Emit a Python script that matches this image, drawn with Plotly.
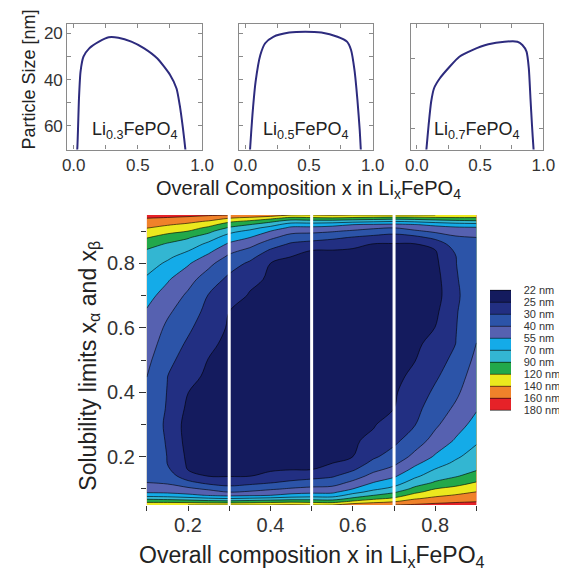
import numpy as np
import plotly.graph_objects as go

FONT = "Liberation Sans, Arial, sans-serif"
OFF = 8                      # browser body margin around the figure
W, H = 567 - OFF, 573 - OFF  # figure size

# ---------------- top panels: particle size vs overall composition ----------------
p1_x = [0.020, 0.028, 0.041, 0.053, 0.076, 0.121, 0.197, 0.273, 0.348, 0.449, 0.549, 0.650, 0.751, 0.801, 0.826, 0.851, 0.869, 0.875]
p1_s = [74.0, 69.7, 48.1, 36.6, 30.1, 26.5, 23.6, 21.7, 21.9, 23.6, 26.5, 30.8, 38.0, 43.8, 51.0, 61.0, 69.7, 74.0]

p2_x = [0.034, 0.038, 0.056, 0.081, 0.118, 0.156, 0.220, 0.345, 0.471, 0.597, 0.723, 0.798, 0.830, 0.857, 0.880, 0.898, 0.906, 0.910]
p2_s = [74.0, 69.7, 55.3, 40.9, 29.4, 24.3, 21.5, 19.7, 19.3, 19.7, 21.5, 23.6, 27.2, 35.9, 48.8, 61.8, 69.7, 74.0]

p3_x = [0.070, 0.075, 0.093, 0.113, 0.136, 0.182, 0.259, 0.336, 0.438, 0.565, 0.693, 0.795, 0.834, 0.867, 0.885, 0.898, 0.910, 0.923, 0.928]
p3_s = [96.0, 92.4, 78.1, 64.8, 57.1, 51.4, 44.8, 39.1, 35.3, 32.0, 30.5, 30.5, 32.4, 36.2, 45.7, 62.8, 78.1, 92.4, 96.0]

panel_labels = ["Li<sub>0.3</sub>FePO<sub>4</sub>", "Li<sub>0.5</sub>FePO<sub>4</sub>", "Li<sub>0.7</sub>FePO<sub>4</sub>"]

# ---------------- main contour map ----------------
comp_x = [0.10, 0.15, 0.20, 0.25, 0.30, 0.35, 0.40, 0.45, 0.50, 0.55, 0.60, 0.65, 0.70, 0.75, 0.80, 0.85, 0.90]
solub_y = [0.05, 0.06, 0.07, 0.08, 0.09, 0.10, 0.12, 0.14, 0.16, 0.18, 0.20, 0.25, 0.30, 0.35, 0.40, 0.45,
           0.50, 0.55, 0.60, 0.65, 0.70, 0.75, 0.80, 0.82, 0.84, 0.86, 0.88, 0.90, 0.91, 0.92, 0.93, 0.94, 0.95]

# particle size [nm] along each column (x fixed), from y=0.05 to y=0.95
size_x010 = [136, 114, 85, 64, 53, 48.4, 39.9, 39, 38.2, 37.3, 36.5, 34.3, 33.8, 35.9, 38, 40.2, 43.5, 46.9, 50.2, 53.7, 59.7, 67.8, 78.6, 83.4, 88.4, 102.6, 121, 134, 140.6, 147, 153.6, 160, 171]
size_x015 = [137.8, 113.4, 82.5, 62.5, 52.2, 46.6, 38.6, 35.2, 31.7, 29.9, 29.9, 29.7, 29.5, 29.67, 29.83, 30.1, 32.7, 35.5, 38.2, 42.3, 49.1, 56.6, 67.8, 73.6, 80.9, 88.2, 106.7, 126.2, 133.8, 141.6, 149.6, 157.6, 168]
size_x020 = [140, 110, 78.6, 58.3, 49.8, 43.3, 32.5, 27, 24.9, 24.6, 24.4, 23.9, 23.7, 24.4, 25.05, 26.4, 27.9, 29.3, 31.7, 35, 38.3, 45.2, 56.8, 63.7, 71, 81, 92.7, 120, 128, 136, 145, 155, 165]
size_x025 = [140, 105, 72.9, 54.2, 45.8, 38.3, 28.5, 24.9, 24.7, 24.5, 24.3, 23.7, 23.2, 23.6, 24.1, 24.5, 24.9, 26, 27.3, 28.5, 29.75, 35, 43.8, 51.3, 58.9, 66.8, 78.9, 97.9, 113.7, 126.7, 137.8, 150, 162.4]
size_x030 = [140, 102.9, 70, 51.6, 40, 35, 27.1, 24.9, 24.7, 24.5, 24.4, 23.9, 23.5, 23.05, 23.4, 23.7, 24, 24.3, 24.7, 25, 26.9, 28.9, 34, 38, 44.3, 52.9, 62.5, 75.9, 87.6, 105, 123.3, 140, 160]
size_x035 = [140, 107, 72.9, 53, 42, 36.5, 28.4, 24.96, 24.8, 24.6, 24.5, 24.1, 23.7, 23.3, 22.9, 23.2, 23.5, 23.8, 24.2, 24.5, 24.8, 25.9, 29.3, 32.5, 37.5, 45, 55, 67, 76.7, 90, 113, 134, 155.6]
size_x040 = [140, 111.4, 75.7, 55, 46.2, 38.6, 29.6, 25.4, 24.9, 24.7, 24.6, 24.3, 23.9, 23.6, 23.2, 22.9, 23.2, 23.5, 23.8, 24.1, 24.4, 24.7, 25, 27.2, 29.4, 35, 43, 55, 65, 77.7, 96, 125, 151.4]
size_x045 = [142, 115.7, 80, 60, 49.5, 41.5, 32.2, 27, 24.94, 24.8, 24.7, 24.4, 24.1, 23.8, 23.5, 23.2, 22.9, 23.2, 23.6, 23.9, 24.2, 24.5, 24.8, 24.97, 26.9, 29.4, 35.4, 44.8, 51.6, 62.5, 80, 108.8, 140]
size_x050 = [140, 112.5, 81.1, 62.5, 51.3, 43.8, 34, 28.2, 24.99, 24.9, 24.7, 24.4, 24.1, 23.8, 23.5, 23.2, 22.9, 23.2, 23.5, 23.8, 24.1, 24.4, 24.7, 24.9, 24.99, 28.2, 34, 43.8, 51.3, 62.5, 81.1, 112.5, 140]
size_x055 = [140, 108.8, 80, 62.5, 51.6, 44.8, 35.4, 29.4, 26.9, 24.97, 24.8, 24.5, 24.2, 23.9, 23.6, 23.2, 22.9, 23.2, 23.5, 23.8, 24.1, 24.4, 24.7, 24.8, 24.94, 27, 32.2, 41.5, 49.5, 60, 80, 115.7, 142]
size_x060 = [151.4, 125, 96, 77.7, 65, 55, 43, 35, 29.4, 27.2, 25, 24.7, 24.4, 24.1, 23.8, 23.5, 23.2, 22.9, 23.2, 23.6, 23.9, 24.3, 24.6, 24.7, 24.9, 25.4, 29.6, 38.6, 46.2, 55, 75.7, 111.4, 140]
size_x065 = [155.6, 134, 113, 90, 76.7, 67, 55, 45, 37.5, 32.5, 29.3, 25.9, 24.8, 24.5, 24.2, 23.8, 23.5, 23.2, 22.9, 23.3, 23.7, 24.1, 24.5, 24.6, 24.8, 24.96, 28.4, 36.5, 42, 53, 72.9, 107, 140]
size_x070 = [160, 140, 123.3, 105, 87.6, 75.9, 62.5, 52.9, 44.3, 38, 34, 28.9, 26.9, 25, 24.7, 24.3, 24, 23.7, 23.4, 23.05, 23.5, 23.9, 24.4, 24.5, 24.7, 24.9, 27.1, 35, 40, 51.6, 70, 102.9, 140]
size_x075 = [162.4, 150, 137.8, 126.7, 113.7, 97.9, 78.9, 66.8, 58.9, 51.3, 43.8, 35, 29.75, 28.5, 27.3, 26, 24.9, 24.5, 24.1, 23.6, 23.2, 23.7, 24.3, 24.5, 24.7, 24.9, 28.5, 38.3, 45.8, 54.2, 72.9, 105, 140]
size_x080 = [165, 155, 145, 136, 128, 120, 92.7, 81, 71, 63.7, 56.8, 45.2, 38.3, 35, 31.7, 29.3, 27.9, 26.4, 25.05, 24.4, 23.7, 23.9, 24.4, 24.6, 24.9, 27, 32.5, 43.3, 49.8, 58.3, 78.6, 110, 140]
size_x085 = [168, 157.6, 149.6, 141.6, 133.8, 126.2, 106.7, 88.2, 80.9, 73.6, 67.8, 56.6, 49.1, 42.3, 38.2, 35.5, 32.7, 30.1, 29.83, 29.67, 29.5, 29.7, 29.9, 29.9, 31.7, 35.2, 38.6, 46.6, 52.2, 62.5, 82.5, 113.4, 137.8]
size_x090 = [171, 160, 153.6, 147, 140.6, 134, 121, 102.6, 88.4, 83.4, 78.6, 67.8, 59.7, 53.7, 50.2, 46.9, 43.5, 40.2, 38, 35.9, 33.8, 34.3, 36.5, 37.3, 38.2, 39, 39.9, 48.4, 53, 64, 85, 114, 136]

size_levels = [22, 25, 30, 40, 55, 70, 90, 120, 140, 160, 180]
level_labels = ["22 nm", "25 nm", "30 nm", "40 nm", "55 nm", "70 nm", "90 nm", "120 nm", "140 nm", "160 nm", "180 nm"]
band_colors = ["#141b5e", "#222f82", "#2c54a8", "#5661b0", "#14abe8", "#33b6d2", "#22a84a", "#ece81e", "#f0822a", "#e62228"]
slice_x = [0.3, 0.5, 0.7]

# ---------------- build ----------------
columns = [size_x010, size_x015, size_x020, size_x025, size_x030, size_x035, size_x040, size_x045, size_x050,
           size_x055, size_x060, size_x065, size_x070, size_x075, size_x080, size_x085, size_x090]
z_size = np.column_stack([np.array(c, dtype=float) for c in columns])  # rows = y, cols = x
level_idx = np.arange(len(size_levels))
# non-uniform size levels -> uniform level index; negated so the colour bar runs 22 nm (top) .. 180 nm (bottom)
z_idx = -np.interp(z_size, size_levels, level_idx)

n = len(band_colors)
rev_colors = band_colors[::-1]
cscale = []
for i, c in enumerate(rev_colors):
    cscale.append([i / n, c])
    cscale.append([(i + 1) / n, c])


def px(xp):
    return (xp - OFF) / W


def py(yp):
    return 1 - (yp - OFF) / H


fig = go.Figure()

# panel geometry (pixels in the window)
panels = [(64, 203), (241, 379), (418, 555)]
ptop, pbot = 23.5, 149.5
pxrange = [-0.05, 1.0]
curves = [(p1_x, p1_s), (p2_x, p2_s), (p3_x, p3_s)]
yranges = [[70.15, 15.77], [70.15, 15.77], [92.1, 20.1]]
ymajor = [[20, 40, 60], [20, 40, 60], [40, 60, 80]]
yminor = [[30, 50], [30, 50], []]

layout_axes = {}
for k, ((l, r), (cx, cs)) in enumerate(zip(panels, curves), start=1):
    xa = "x" if k == 1 else f"x{k}"
    ya = "y" if k == 1 else f"y{k}"
    fig.add_trace(go.Scatter(x=cx, y=cs, mode="lines", xaxis=xa, yaxis=ya,
                             line=dict(color="#2d2b7e", width=2, shape="spline", smoothing=0.6),
                             showlegend=False, hoverinfo="skip"))
    axline = dict(showline=True, linecolor="#8a8a8a", linewidth=1.2, mirror="ticks",
                  ticks="inside", ticklen=4, tickcolor="#8a8a8a", showgrid=False, zeroline=False)
    layout_axes["xaxis" if k == 1 else f"xaxis{k}"] = dict(
        domain=[px(l), px(r)], range=pxrange, anchor=ya,
        tickvals=[0, 0.5, 1.0], ticktext=["0.0", "0.5", "1.0"],
        minor=dict(tickvals=[0.25, 0.75], ticks="inside", ticklen=4, tickcolor="#8a8a8a", showgrid=False),
        tickfont=dict(family=FONT, size=17, color="#333"), **axline)
    layout_axes["yaxis" if k == 1 else f"yaxis{k}"] = dict(
        domain=[py(pbot), py(ptop)], range=yranges[k - 1], anchor=xa,
        tickvals=ymajor[k - 1], showticklabels=(k == 1),
        minor=dict(tickvals=yminor[k - 1], ticks="inside", ticklen=4, tickcolor="#8a8a8a", showgrid=False),
        tickfont=dict(family=FONT, size=17, color="#333"), **axline)

# main contour
fig.add_trace(go.Contour(
    x=comp_x, y=solub_y, z=z_idx, xaxis="x4", yaxis="y4",
    zmin=-10, zmax=0, autocontour=False,
    contours=dict(start=-10, end=0, size=1, coloring="fill", showlines=True),
    line=dict(color="black", width=0.6),
    colorscale=cscale, hoverinfo="skip",
    colorbar=dict(x=px(500), xanchor="left", y=py(350), yanchor="middle",
                  thickness=21, thicknessmode="pixels", len=120, lenmode="pixels",
                  outlinewidth=0, xpad=0, ypad=0,
                  tickvals=[-int(i) for i in level_idx], ticktext=level_labels,
                  ticks="outside", ticklen=11, tickcolor="rgba(0,0,0,0)",
                  tickfont=dict(family=FONT, size=11, color="#333")),
))

main_l, main_r, main_t, main_b = 146, 486, 215, 505
tick_main = dict(ticks="outside", tickwidth=1.2, tickcolor="#333", showline=False, showgrid=False,
                 zeroline=False, tickfont=dict(family=FONT, size=20, color="#333"))
layout_axes["xaxis4"] = dict(domain=[px(main_l), px(main_r)], range=[0.1, 0.9], anchor="y4",
                             tickvals=[0.2, 0.4, 0.6, 0.8], ticklen=5, ticklabelstandoff=-3,
                             minor=dict(tickvals=[0.1, 0.3, 0.5, 0.7, 0.9], ticks="outside", ticklen=5,
                                        tickcolor="#333", tickwidth=1.2, showgrid=False),
                             **tick_main)
layout_axes["yaxis4"] = dict(domain=[py(main_b), py(main_t)], range=[0.05, 0.95], anchor="x4",
                             tickvals=[0.2, 0.4, 0.6, 0.8], ticklen=7,
                             minor=dict(tickvals=[0.1, 0.3, 0.5, 0.7, 0.9], ticks="outside", ticklen=5,
                                        tickcolor="#333", tickwidth=1.2, showgrid=False),
                             **tick_main)

shapes = [dict(type="line", xref="x4", yref="y4 domain", x0=sx, x1=sx, y0=0, y1=1,
               line=dict(color="white", width=3), layer="above") for sx in slice_x]


def note(text, x, y, size, angle=0):
    return dict(text=text, x=px(x), y=py(y), xref="paper", yref="paper", showarrow=False,
                textangle=angle, xanchor="center", yanchor="middle",
                font=dict(family=FONT, size=size, color="#222"))


annotations = [note(lab, (l + r) / 2, 130, 18) for (l, r), lab in zip(panels, panel_labels)]
annotations += [
    note("Particle Size [nm]", 24, 80, 18, -90),
    note("Overall Composition x in Li<sub>x</sub>FePO<sub>4</sub>", 313, 190, 20),
    note("Solubility limits x<sub>α</sub> and x<sub>β</sub>", 86, 366, 23, -90),
    note("Overall composition x in Li<sub>x</sub>FePO<sub>4</sub>", 316, 556, 23),
]

fig.update_layout(width=W, height=H, margin=dict(l=0, r=0, t=0, b=0),
                  paper_bgcolor="white", plot_bgcolor="white", showlegend=False,
                  shapes=shapes, annotations=annotations, **layout_axes)

fig.write_html("out.html")
